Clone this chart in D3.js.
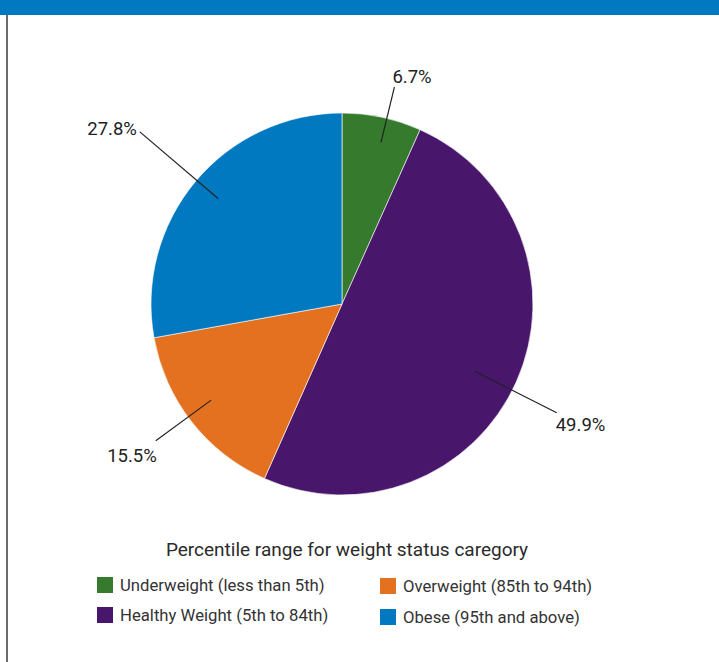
<!DOCTYPE html>
<html>
<head>
<meta charset="utf-8">
<style>
  body { margin: 0; background: #fff; }
  svg { display: block; font-family: Roboto, "Noto Sans", sans-serif; }
</style>
</head>
<body>
<div id="container"></div>
<script src="https://cdn.jsdelivr.net/npm/d3@7/dist/d3.min.js"></script>
<script>
// Data
let categories = ["Underweight (less than 5th)", "Healthy Weight (5th to 84th)", "Overweight (85th to 94th)", "Obese (95th and above)"];
let values = [6.7, 49.9, 15.5, 27.8];
let labels = ["6.7%", "49.9%", "15.5%", "27.8%"];
let colors = ["#367B2D", "#48166B", "#E4711F", "#0079C1"];
let legendTitle = "Percentile range for weight status caregory";

// Leader line tweaks per slice (angle nudge in degrees, inner/outer radius factor, text anchor, dx, dy)
let leader = [
  { rot: 1.5, inn: 0.87, out: 1.17, anchor: "start", dx: -2, dy: -4 },
  { rot: 2.8, inn: 0.78, out: 1.26, anchor: "start", dx: -1, dy: 18 },
  { rot: 1.8, inn: 0.85, out: 1.21, anchor: "end", dx: 1, dy: 21 },
  { rot: 0.5, inn: 0.85, out: 1.39, anchor: "end", dx: -3, dy: 3 }
];

let width = 719, height = 662;
let cx = 342, cy = 304, r = 191;

let svg = d3.select("#container")
  .append("svg")
  .attr("width", width)
  .attr("height", height);

// frame: top bar and left rule
svg.append("rect")
  .attr("x", 0).attr("y", 0)
  .attr("width", width).attr("height", 15)
  .attr("fill", "#0079C1");
svg.append("rect")
  .attr("x", 6).attr("y", 15)
  .attr("width", 2).attr("height", height - 15)
  .attr("fill", "#6b6b6b");

let pie = d3.pie().sort(null).value((d) => d.value);
let arcs = pie(values.map((v, i) => ({ value: v, i: i })));

let arc = d3.arc().innerRadius(0).outerRadius(r);

let g = svg.append("g").attr("transform", `translate(${cx}, ${cy})`);

g.selectAll("path.slice")
  .data(arcs)
  .enter()
  .append("path")
  .attr("class", "slice")
  .attr("d", arc)
  .attr("fill", (d) => colors[d.data.i])
  .attr("stroke", "#fff")
  .attr("stroke-width", 0.6);

function polar(a, rad) {
  return [Math.sin(a) * rad, -Math.cos(a) * rad];
}

arcs.forEach((d) => {
  let L = leader[d.data.i];
  let mid = (d.startAngle + d.endAngle) / 2 + L.rot * Math.PI / 180;
  let p0 = polar(mid, r * L.inn);
  let p1 = polar(mid, r * L.out);
  g.append("line")
    .attr("x1", p0[0]).attr("y1", p0[1])
    .attr("x2", p1[0]).attr("y2", p1[1])
    .attr("stroke", "#222")
    .attr("stroke-width", 1.2);
  g.append("text")
    .attr("x", p1[0] + L.dx)
    .attr("y", p1[1] + L.dy)
    .attr("text-anchor", L.anchor)
    .attr("font-size", 18.5)
    .attr("fill", "#222")
    .text(labels[d.data.i]);
});

// Legend
svg.append("text")
  .attr("x", 347).attr("y", 556)
  .attr("text-anchor", "middle")
  .attr("font-size", 19)
  .attr("fill", "#2b2b2b")
  .text(legendTitle);

let legendPos = [[97, 577], [97, 607], [380, 578], [380, 609]];
let legend = svg.selectAll("g.legend")
  .data(categories)
  .enter()
  .append("g")
  .attr("class", "legend")
  .attr("transform", (d, i) => `translate(${legendPos[i][0]}, ${legendPos[i][1]})`);

legend.append("rect")
  .attr("width", 16).attr("height", 16)
  .attr("fill", (d, i) => colors[i]);

legend.append("text")
  .attr("x", 23).attr("y", 13.5)
  .attr("font-size", 16.7)
  .attr("fill", "#333")
  .text((d) => d);
</script>
</body>
</html>
